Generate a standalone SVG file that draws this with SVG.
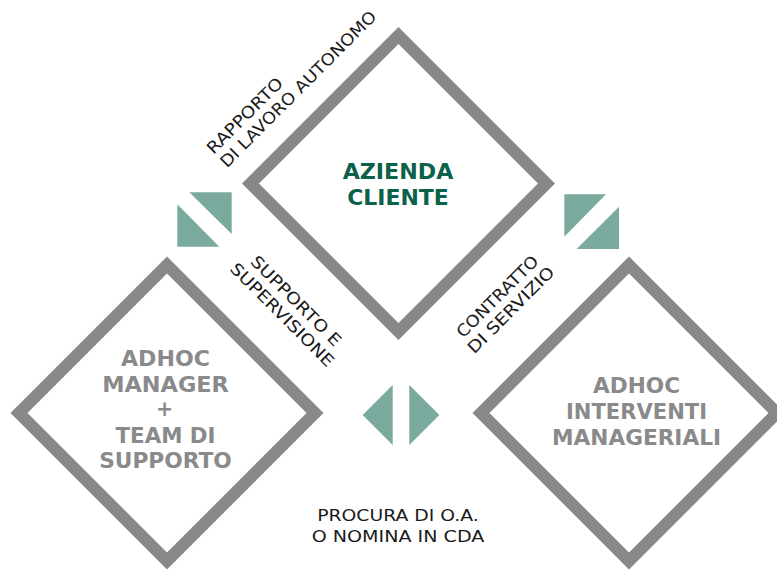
<svg xmlns="http://www.w3.org/2000/svg" width="777" height="571" viewBox="0 0 777 571">
<style>
.frame{fill:none;stroke:#888888;stroke-width:12;stroke-linejoin:miter}
.title{font-family:"DejaVu Sans",sans-serif;font-weight:bold;font-size:20.5px;text-anchor:middle}
.green{fill:#0b6149}
.gray{fill:#8a8a8a}
.tri{fill:#7aa99d}
.lbl{font-family:"DejaVu Sans",sans-serif;font-size:16.5px;fill:#1a1a1a}
.mid{text-anchor:middle}
</style>
<rect width="777" height="571" fill="#ffffff"/>
<g id="azienda-cliente">
<polygon class="frame" points="398.5,35.5 546.5,183.5 398.5,331.5 250.5,183.5"/>
<text class="title green" x="398" y="179.3" textLength="110.7" lengthAdjust="spacingAndGlyphs">AZIENDA</text>
<text class="title green" x="398" y="205" textLength="101.7" lengthAdjust="spacingAndGlyphs">CLIENTE</text>
</g>
<g id="adhoc-manager">
<polygon class="frame" points="167,265 315,413 167,561 19,413"/>
<text class="title gray" x="165.5" y="366" textLength="89" lengthAdjust="spacingAndGlyphs">ADHOC</text>
<text class="title gray" x="165.5" y="391.7" textLength="126.7" lengthAdjust="spacingAndGlyphs">MANAGER</text>
<text class="title gray" x="164.5" y="416">+</text>
<text class="title gray" x="165.5" y="443" textLength="100" lengthAdjust="spacingAndGlyphs">TEAM DI</text>
<text class="title gray" x="165.5" y="468.3" textLength="132.7" lengthAdjust="spacingAndGlyphs">SUPPORTO</text>
</g>
<g id="adhoc-interventi">
<polygon class="frame" points="629,265 777,413 629,561 481,413"/>
<text class="title gray" x="636.5" y="393" textLength="87" lengthAdjust="spacingAndGlyphs">ADHOC</text>
<text class="title gray" x="636.5" y="419" textLength="141" lengthAdjust="spacingAndGlyphs">INTERVENTI</text>
<text class="title gray" x="636.5" y="445" textLength="169" lengthAdjust="spacingAndGlyphs">MANAGERIALI</text>
</g>
<g id="connectors">
<g id="link-left">
<polygon class="tri" points="189.3,192.3 231.7,192.3 231.7,234"/>
<polygon class="tri" points="177.3,204.3 177.3,246.7 219.3,246.7"/>
</g>
<g id="link-right">
<polygon class="tri" points="564.3,194.3 606,194.3 564.3,236.7"/>
<polygon class="tri" points="619,206.7 619,249 576.7,249"/>
</g>
<g id="link-bottom">
<polygon class="tri" points="392.7,385 392.7,445 362.7,415"/>
<polygon class="tri" points="409.3,385 409.3,445 439.3,415"/>
</g>
<g transform="translate(213.5,155) rotate(-45)">
<text class="lbl" x="0" y="0" textLength="100" lengthAdjust="spacingAndGlyphs">RAPPORTO</text>
<text class="lbl" x="0" y="19" textLength="213" lengthAdjust="spacingAndGlyphs">DI LAVORO AUTONOMO</text>
</g>
<g transform="translate(292,305) rotate(45)">
<text class="lbl mid" x="0" y="0" textLength="120" lengthAdjust="spacingAndGlyphs">SUPPORTO E</text>
<text class="lbl mid" x="0" y="19.5" textLength="139" lengthAdjust="spacingAndGlyphs">SUPERVISIONE</text>
</g>
<g transform="translate(501.5,300.5) rotate(-45)">
<text class="lbl mid" x="0" y="0" textLength="108" lengthAdjust="spacingAndGlyphs">CONTRATTO</text>
<text class="lbl mid" x="0" y="19" textLength="115" lengthAdjust="spacingAndGlyphs">DI SERVIZIO</text>
</g>
<text class="lbl mid" x="398" y="520.7" textLength="161.7" lengthAdjust="spacingAndGlyphs">PROCURA DI O.A.</text>
<text class="lbl mid" x="398" y="541.7" textLength="172.7" lengthAdjust="spacingAndGlyphs">O NOMINA IN CDA</text>
</g>
</svg>
